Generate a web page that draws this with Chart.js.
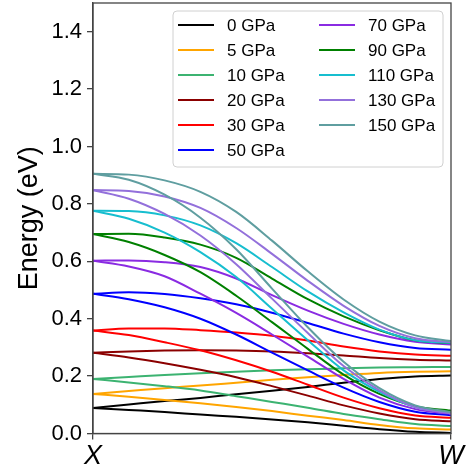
<!DOCTYPE html>
<html>
<head>
<meta charset="utf-8">
<script src="https://cdn.jsdelivr.net/npm/chart.js@4.4.0/dist/chart.umd.min.js"></script>
<style>
  html, body { margin: 0; padding: 0; background: #fff; }
  #wrap { width: 469px; height: 468px; }
</style>
</head>
<body>
<div id="wrap"><canvas id="bands"></canvas></div>
<script>
// k-path fraction from X (0) to W (1)
const K_PATH = [0, 0.1, 0.2, 0.3, 0.4, 0.5, 0.6, 0.7, 0.8, 0.9, 1];
const X_TICKS = [0, 1];
const X_LABELS = ['X', 'W'];
const Y_TICKS = [0, 0.2, 0.4, 0.6, 0.8, 1.0, 1.2, 1.4];

const PRESSURES = ['0 GPa', '5 GPa', '10 GPa', '20 GPa', '30 GPa', '50 GPa',
  '70 GPa', '90 GPa', '110 GPa', '130 GPa', '150 GPa'];
const COLORS = ['#000000', '#FFA500', '#3CB371', '#8B0000', '#FF0000', '#0000FF',
  '#8A2BE2', '#008000', '#17BECF', '#9370DB', '#5F9EA0'];

// upper branch (eV), one row per pressure
const UPPER = [
  [0.089, 0.101, 0.113, 0.124, 0.137, 0.149, 0.162, 0.177, 0.190, 0.199, 0.202],
  [0.138, 0.148, 0.158, 0.167, 0.177, 0.187, 0.196, 0.204, 0.211, 0.215, 0.217],
  [0.190, 0.197, 0.204, 0.210, 0.215, 0.220, 0.224, 0.227, 0.230, 0.231, 0.232],
  [0.281, 0.286, 0.289, 0.290, 0.289, 0.286, 0.280, 0.272, 0.263, 0.257, 0.254],
  [0.359, 0.366, 0.366, 0.360, 0.352, 0.341, 0.324, 0.303, 0.286, 0.275, 0.271],
  [0.487, 0.492, 0.486, 0.471, 0.450, 0.421, 0.385, 0.348, 0.318, 0.298, 0.292],
  [0.602, 0.603, 0.597, 0.580, 0.540, 0.482, 0.428, 0.382, 0.345, 0.320, 0.310],
  [0.695, 0.696, 0.683, 0.658, 0.612, 0.540, 0.468, 0.408, 0.360, 0.325, 0.315],
  [0.776, 0.775, 0.760, 0.725, 0.663, 0.580, 0.495, 0.422, 0.362, 0.325, 0.316],
  [0.848, 0.845, 0.826, 0.786, 0.716, 0.626, 0.532, 0.445, 0.375, 0.332, 0.318],
  [0.905, 0.902, 0.882, 0.842, 0.772, 0.672, 0.565, 0.467, 0.390, 0.342, 0.322]
];

// lower branch (eV)
const LOWER = [
  [0.089, 0.082, 0.075, 0.066, 0.058, 0.049, 0.039, 0.027, 0.015, 0.006, 0.002],
  [0.138, 0.128, 0.117, 0.105, 0.092, 0.078, 0.062, 0.047, 0.030, 0.018, 0.014],
  [0.190, 0.178, 0.165, 0.150, 0.130, 0.110, 0.090, 0.068, 0.050, 0.033, 0.026],
  [0.281, 0.265, 0.245, 0.222, 0.196, 0.165, 0.132, 0.098, 0.070, 0.050, 0.043],
  [0.359, 0.343, 0.318, 0.290, 0.255, 0.215, 0.170, 0.125, 0.088, 0.063, 0.055],
  [0.487, 0.468, 0.440, 0.400, 0.345, 0.282, 0.220, 0.160, 0.110, 0.076, 0.064],
  [0.602, 0.582, 0.548, 0.487, 0.420, 0.345, 0.268, 0.190, 0.125, 0.085, 0.068],
  [0.695, 0.667, 0.622, 0.562, 0.480, 0.388, 0.295, 0.205, 0.138, 0.095, 0.080],
  [0.776, 0.748, 0.700, 0.632, 0.545, 0.435, 0.325, 0.220, 0.145, 0.092, 0.072],
  [0.848, 0.818, 0.765, 0.690, 0.590, 0.470, 0.350, 0.235, 0.150, 0.092, 0.070],
  [0.905, 0.884, 0.832, 0.752, 0.642, 0.505, 0.370, 0.250, 0.158, 0.098, 0.075]
];

const FONT = '"Liberation Sans", Arial, Helvetica, sans-serif';
const AXIS = '#444';

function branch(vals, color, label) {
  return {
    label, data: K_PATH.map((k, i) => ({ x: k, y: vals[i] })),
    borderColor: color, backgroundColor: color, borderWidth: 2,
    pointRadius: 0, fill: false, cubicInterpolationMode: 'monotone'
  };
}

// chart.js paints dataset 0 last, so 150 GPa goes first to sit on top like matplotlib
const datasets = [];
for (let i = PRESSURES.length - 1; i >= 0; i--) {
  datasets.push(branch(UPPER[i], COLORS[i], PRESSURES[i]));
  datasets.push(branch(LOWER[i], COLORS[i], PRESSURES[i]));
}

const frame = {
  id: 'frame',
  afterDatasetsDraw(chart) {
    const { ctx, chartArea: a } = chart;
    ctx.save();
    ctx.strokeStyle = AXIS;
    ctx.lineWidth = 1.3;
    ctx.strokeRect(a.left, a.top, a.right - a.left, a.bottom - a.top);
    ctx.restore();
  }
};

// two-column legend (column-major, like matplotlib ncol=2)
const legendBox = {
  id: 'legendBox',
  afterDraw(chart) {
    const { ctx, chartArea: a } = chart;
    const bx = a.left + 80, by = a.top + 8, bw = 270, bh = 156;
    ctx.save();
    ctx.beginPath();
    ctx.roundRect(bx, by, bw, bh, 4);
    ctx.fillStyle = 'rgba(255,255,255,0.8)';
    ctx.fill();
    ctx.strokeStyle = '#d0d0d0';
    ctx.lineWidth = 1;
    ctx.stroke();
    ctx.font = '17px ' + FONT;
    ctx.textBaseline = 'middle';
    ctx.fillStyle = '#000';
    PRESSURES.forEach((p, i) => {
      const col = i < 6 ? 0 : 1;
      const row = col ? i - 6 : i;
      const x0 = bx + 5 + col * 141;
      const y = by + 14 + row * 25;
      ctx.beginPath();
      ctx.moveTo(x0, y);
      ctx.lineTo(x0 + 36, y);
      ctx.strokeStyle = COLORS[i];
      ctx.lineWidth = 2;
      ctx.stroke();
      ctx.fillText(p, x0 + 49, y + 1);
    });
    ctx.restore();
  }
};

new Chart(document.getElementById('bands'), {
  type: 'line',
  data: { datasets },
  options: {
    responsive: true,
    maintainAspectRatio: false,
    animation: false,
    devicePixelRatio: 1,
    layout: { padding: { top: 3, right: 18, left: 0, bottom: 0 } },
    plugins: { legend: { display: false }, tooltip: { enabled: false } },
    scales: {
      x: {
        type: 'linear', min: 0, max: 1,
        afterBuildTicks: s => { s.ticks = X_TICKS.map(v => ({ value: v })); },
        afterFit: s => { s.height = 34.5; s.paddingLeft = 0; s.paddingRight = 0; },
        ticks: {
          callback: (v, i) => X_LABELS[i], autoSkip: false, maxRotation: 0,
          color: '#000', padding: 1, font: { family: FONT, size: 27, style: 'italic' }
        },
        grid: { drawOnChartArea: false, tickLength: 6, color: AXIS, lineWidth: 1.3 },
        border: { color: AXIS, width: 1.3 }
      },
      y: {
        type: 'linear', min: 0, max: 1.5,
        afterBuildTicks: s => { s.ticks = Y_TICKS.map(v => ({ value: v })); },
        afterFit: s => { s.width = 93; s.paddingTop = 0; s.paddingBottom = 0; },
        ticks: {
          callback: v => v.toFixed(1), color: '#000', padding: 5,
          font: { family: FONT, size: 22 }
        },
        grid: { drawOnChartArea: false, tickLength: 6, color: AXIS, lineWidth: 1.3 },
        border: { color: AXIS, width: 1.3 },
        title: {
          display: true, text: 'Energy (eV)', color: '#000',
          font: { family: FONT, size: 27, lineHeight: 1.2 }, padding: { top: 13, bottom: 0 }
        }
      }
    }
  },
  plugins: [frame, legendBox]
});
</script>
</body>
</html>
